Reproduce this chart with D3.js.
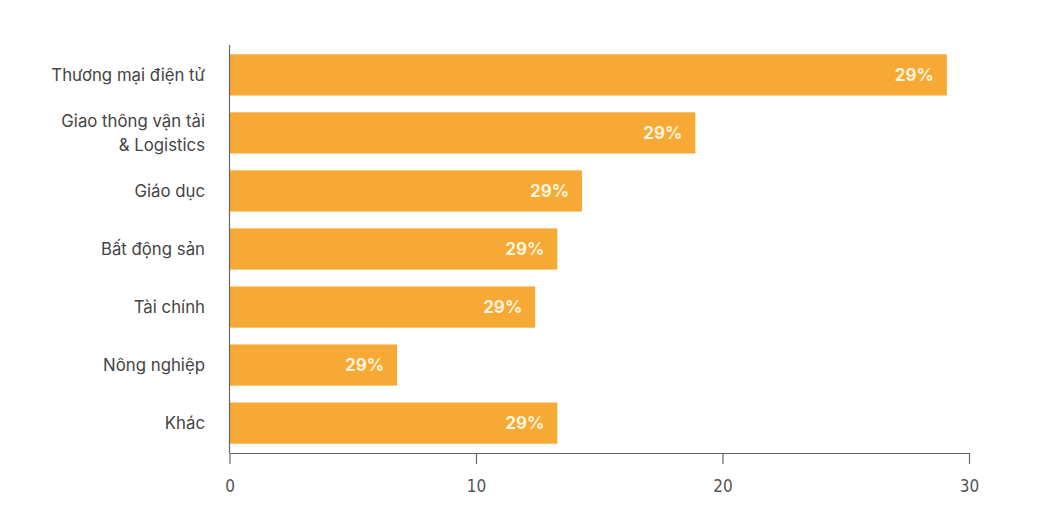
<!DOCTYPE html>
<html>
<head>
<meta charset="utf-8">
<script src="https://cdn.jsdelivr.net/npm/d3@7"></script>
<style>
  html, body { margin: 0; padding: 0; background: #fff; }
  svg { display: block; }
</style>
</head>
<body>
<svg id="chart" width="1045" height="513"></svg>
<script>
const categories = ["Thương mại điện tử", "Giao thông vận tải\n& Logistics", "Giáo dục", "Bất động sản", "Tài chính", "Nông nghiệp", "Khác"];
const values = [29.1, 18.9, 14.3, 13.3, 12.4, 6.8, 13.3];
const valueLabels = ["29%", "29%", "29%", "29%", "29%", "29%", "29%"];
const xTicks = [0, 10, 20, 30];

const svg = d3.select("#chart");
const x = d3.scaleLinear().domain([0, 30]).range([229.5, 969]);
const y = d3.scaleBand().domain(categories).range([45, 453]).paddingInner(0.29).paddingOuter(0.16);

const data = categories.map((c, i) => ({ c, v: values[i], l: valueLabels[i] }));

svg.selectAll("rect.bar").data(data).join("rect")
  .attr("class", "bar")
  .attr("x", x(0))
  .attr("y", d => y(d.c))
  .attr("width", d => x(d.v) - x(0))
  .attr("height", y.bandwidth())
  .attr("fill", "#F6A934");

svg.selectAll("text.val").data(data).join("text")
  .attr("class", "val")
  .attr("x", d => x(d.v) - 13)
  .attr("y", d => y(d.c) + y.bandwidth() / 2)
  .attr("dy", "0.36em")
  .attr("text-anchor", "end")
  .attr("font-family", "Inter, 'Noto Sans', sans-serif")
  .attr("font-weight", 700)
  .attr("font-size", 17)
  .attr("fill", "#FFF4DC")
  .text(d => d.l);

// y axis line
svg.append("line")
  .attr("x1", x(0)).attr("x2", x(0))
  .attr("y1", 45).attr("y2", 453)
  .attr("stroke", "#666").attr("stroke-width", 1.2);

// category labels
const labels = svg.selectAll("text.cat").data(data).join("text")
  .attr("class", "cat")
  .attr("x", 205)
  .attr("y", d => y(d.c) + y.bandwidth() / 2)
  .attr("text-anchor", "end")
  .attr("font-family", "Inter, 'Noto Sans', sans-serif")
  .attr("font-size", 16.8)
  .attr("fill", "#444");
labels.each(function(d) {
  const lines = d.c.split("\n");
  const t = d3.select(this);
  const lh = 24;
  lines.forEach((ln, i) => {
    t.append("tspan")
      .attr("x", 205)
      .attr("y", y(d.c) + y.bandwidth() / 2 + (i - (lines.length - 1) / 2) * lh)
      .attr("dy", "0.36em")
      .text(ln);
  });
});

// x axis
const xAxis = d3.axisBottom(x).tickValues(xTicks).tickSize(11).tickSizeOuter(0).tickPadding(16);
const gx = svg.append("g").attr("transform", "translate(0,453)").call(xAxis);
gx.select(".domain").attr("stroke", "#666").attr("stroke-width", 1.2);
gx.selectAll(".tick line").attr("stroke", "#666").attr("stroke-width", 1.2);
gx.selectAll(".tick text")
  .attr("font-family", "'Liberation Sans Narrow', 'DejaVu Sans Condensed', sans-serif")
  .attr("font-size", 17)
  .attr("fill", "#555");
</script>
</body>
</html>
